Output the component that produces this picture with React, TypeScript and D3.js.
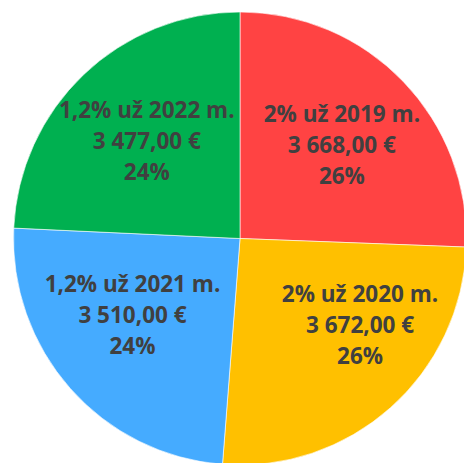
import React from "react";
import * as d3 from "d3";

const labels = ["2% už 2019 m.", "2% už 2020 m.", "1,2% už 2021 m.", "1,2% už 2022 m."];
const values = [3668, 3672, 3510, 3477];
const colors = ["#FF4343", "#FFC000", "#45ABFF", "#00B050"];

// Excel "best fit" label placement tweak (degrees, radius px)
const labelAngleNudge = [1.5, -12.5, 6, 0];
const labelRadius = [138, 148, 132, 135];

const W = 464;
const H = 463;
const cx = 240;
const cy = 238.5;
const R = 226.5;

const fmtMoney = (v: number) => {
  const s = v.toFixed(2).replace(".", ",");
  const [i, d] = s.split(",");
  const grouped = i.replace(/\B(?=(\d{3})+(?!\d))/g, " ");
  return `${grouped},${d} €`;
};

export default function App() {
  const pie = d3.pie<number>().sort(null).value((d) => d)(values);
  const arc = d3.arc<d3.PieArcDatum<number>>().innerRadius(0).outerRadius(R);
  const total = d3.sum(values);
  const lh = 31;
  return (
    <svg
      width={W}
      height={H}
      style={{ position: "fixed", left: 0, top: 0, background: "#fff" }}
    >
      <g transform={`translate(${cx},${cy})`}>
        {pie.map((p, i) => (
          <path key={i} d={arc(p) || ""} fill={colors[i]} stroke="#fff" strokeWidth={0.6} />
        ))}
        {pie.map((p, i) => {
          const a = (p.startAngle + p.endAngle) / 2 + (labelAngleNudge[i] * Math.PI) / 180;
          const r = labelRadius[i];
          const x = r * Math.sin(a);
          const y = -r * Math.cos(a);
          const pct = Math.round((values[i] / total) * 100) + "%";
          const lines = [labels[i], fmtMoney(values[i]), pct];
          return (
            <text
              key={"t" + i}
              textAnchor="middle"
              fontFamily="'Open Sans', sans-serif"
              fontWeight="bold"
              fontSize={22.5}
              fill="#404040"
            >
              {lines.map((l, j) => (
                <tspan key={j} x={x} y={y + 8 + (j - 1) * lh}>
                  {l}
                </tspan>
              ))}
            </text>
          );
        })}
      </g>
    </svg>
  );
}
